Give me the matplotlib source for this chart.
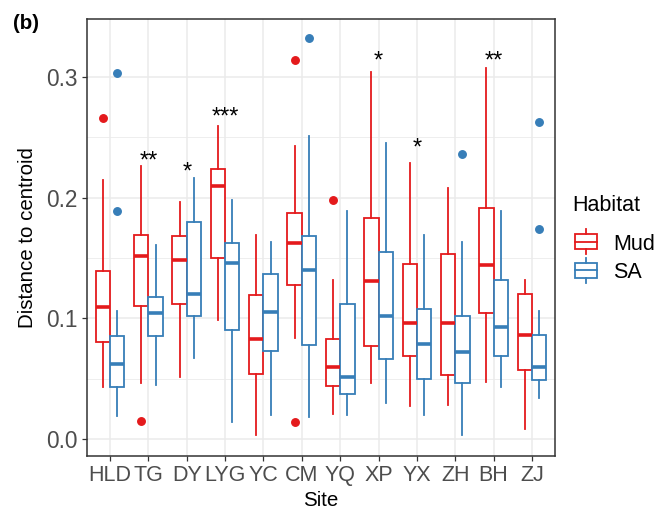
import matplotlib
matplotlib.use("Agg")
import matplotlib.pyplot as plt
from matplotlib.patches import Rectangle
from matplotlib.lines import Line2D
from matplotlib.ticker import MultipleLocator

plt.rcParams["font.family"] = ["Liberation Sans", "DejaVu Sans"]

# ---- data: per-site box statistics of distance to centroid ----
sites = ["HLD", "TG", "DY", "LYG", "YC", "CM", "YQ", "XP", "YX", "ZH", "BH", "ZJ"]
habitats = ["Mud", "SA"]

mud_q1 = [0.080, 0.110, 0.112, 0.150, 0.054, 0.128, 0.044, 0.077, 0.069, 0.053, 0.104, 0.057]
mud_med = [0.109, 0.152, 0.148, 0.210, 0.083, 0.162, 0.060, 0.131, 0.096, 0.096, 0.144, 0.086]
mud_q3 = [0.139, 0.169, 0.168, 0.224, 0.119, 0.187, 0.083, 0.183, 0.145, 0.153, 0.191, 0.120]
mud_lo = [0.043, 0.046, 0.051, 0.099, 0.003, 0.084, 0.021, 0.046, 0.027, 0.028, 0.047, 0.008]
mud_hi = [0.215, 0.226, 0.196, 0.259, 0.169, 0.243, 0.132, 0.304, 0.229, 0.208, 0.307, 0.132]
mud_out = [[0.266], [0.015], [], [], [], [0.314, 0.014], [0.198], [], [], [], [], []]

sa_q1 = [0.043, 0.085, 0.102, 0.090, 0.073, 0.078, 0.037, 0.066, 0.050, 0.046, 0.069, 0.049]
sa_med = [0.062, 0.104, 0.120, 0.146, 0.105, 0.140, 0.051, 0.102, 0.079, 0.072, 0.093, 0.060]
sa_q3 = [0.085, 0.118, 0.180, 0.162, 0.137, 0.168, 0.112, 0.155, 0.108, 0.102, 0.132, 0.086]
sa_lo = [0.019, 0.045, 0.067, 0.014, 0.020, 0.018, 0.020, 0.030, 0.020, 0.003, 0.043, 0.034]
sa_hi = [0.106, 0.161, 0.216, 0.198, 0.163, 0.251, 0.189, 0.245, 0.169, 0.163, 0.189, 0.106]
sa_out = [[0.303, 0.189], [], [], [], [], [0.332], [], [], [], [0.236], [], [0.263, 0.174]]

# significance of the Mud vs SA comparison at each site, and label heights
sig_labels = ["", "**", "*", "***", "", "", "", "*", "*", "", "**", ""]
sig_y = [0.0, 0.2253, 0.216, 0.261, 0.0, 0.0, 0.0, 0.3076, 0.236, 0.0, 0.3076, 0.0]

y_ticks = [0.0, 0.1, 0.2, 0.3]

# ---- styling ----
colors = {"Mud": "#E41A1C", "SA": "#377EB8"}
W, H = 670, 514
DPI = 100
box_w = 0.375
dodge = 0.1875
lw = 1.3

fig = plt.figure(figsize=(W / DPI, H / DPI), dpi=DPI)
L, R, T, B = 87, 555, 19, 456
ax = fig.add_axes([L / W, 1 - B / H, (R - L) / W, (B - T) / H])


def make_stats(q1, med, q3, lo, hi, out):
    return [dict(q1=a, med=m, q3=c, whislo=l, whishi=h, fliers=f)
            for a, m, c, l, h, f in zip(q1, med, q3, lo, hi, out)]


groups = {
    "Mud": make_stats(mud_q1, mud_med, mud_q3, mud_lo, mud_hi, mud_out),
    "SA": make_stats(sa_q1, sa_med, sa_q3, sa_lo, sa_hi, sa_out),
}
x = list(range(1, len(sites) + 1))

for hab, off in zip(habitats, (-dodge, dodge)):
    c = colors[hab]
    ax.bxp(groups[hab], positions=[p + off for p in x], widths=box_w,
           showcaps=False, manage_ticks=False, patch_artist=True,
           boxprops=dict(facecolor="white", edgecolor=c, linewidth=lw),
           medianprops=dict(color=c, linewidth=2.6, solid_capstyle="butt"),
           whiskerprops=dict(color=c, linewidth=lw),
           flierprops=dict(marker="o", markerfacecolor=c, markeredgecolor=c,
                           markersize=5.4, linestyle="none"),
           zorder=3)

for xi, lab, yv in zip(x, sig_labels, sig_y):
    if lab:
        ax.text(xi, yv, lab, ha="center", va="baseline", fontsize=17,
                color="black", zorder=4)

ax.set_xlim(0.4, len(sites) + 0.6)
ax.set_ylim(-0.0141, 0.348)
ax.set_xticks(x)
ax.set_xticklabels(sites)
ax.set_yticks(y_ticks)
ax.set_yticklabels([f"{v:.1f}" for v in y_ticks])
ax.yaxis.set_minor_locator(MultipleLocator(0.05))

ax.set_axisbelow(True)
ax.grid(True, which="major", color="#EBEBEB", linewidth=1.1)
ax.grid(True, which="minor", axis="y", color="#EBEBEB", linewidth=0.6)
ax.tick_params(axis="both", which="major", colors="#333333", length=3.6,
               width=0.9, labelcolor="#4D4D4D", pad=3)
ax.tick_params(axis="x", which="major", labelsize=15.5)
ax.tick_params(axis="y", which="major", labelsize=16.3)
ax.tick_params(axis="y", which="minor", length=0)
for sp in ax.spines.values():
    sp.set_color("#333333")
    sp.set_linewidth(1.1)

# ---- titles and legend on a pixel-space overlay ----
ov = fig.add_axes([0, 0, 1, 1], zorder=5)
ov.set_xlim(0, W)
ov.set_ylim(H, 0)
ov.axis("off")

ov.text(12.5, 28.7, "(b)", fontsize=14.8, fontweight="bold", ha="left", va="baseline")
ov.text(33.3, (T + B) / 2, "Distance to centroid", fontsize=14.8, rotation=90,
        rotation_mode="anchor", ha="center", va="baseline")
ov.text((L + R) / 2, 506, "Site", fontsize=14.8, ha="center", va="baseline")

ov.text(572, 211, "Habitat", fontsize=15.5, ha="left", va="baseline")
key_x0, key_x1 = 575, 597
for hab, yc in zip(habitats, (241.5, 270.0)):
    c = colors[hab]
    ov.add_patch(Rectangle((key_x0, yc - 7.5), key_x1 - key_x0, 15,
                           facecolor="white", edgecolor=c, linewidth=lw))
    xm = (key_x0 + key_x1) / 2
    ov.add_line(Line2D([key_x0, key_x1], [yc, yc], color=c, linewidth=lw))
    ov.add_line(Line2D([xm, xm], [yc - 12.5, yc - 7.5], color=c, linewidth=lw))
    ov.add_line(Line2D([xm, xm], [yc + 7.5, yc + 12.5], color=c, linewidth=lw))
    ov.text(613, yc + 8.5, hab, fontsize=15.5, ha="left", va="baseline")

fig.savefig("out.png", dpi=DPI)
